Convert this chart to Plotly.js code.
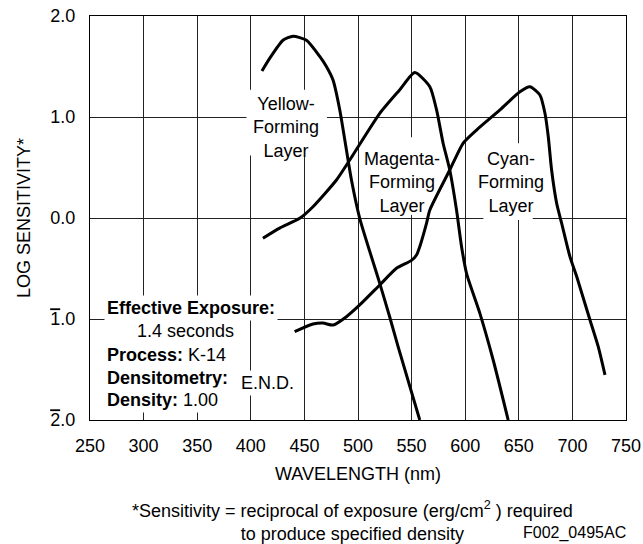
<!DOCTYPE html>
<html>
<head>
<meta charset="utf-8">
<script src="https://cdn.plot.ly/plotly-3.0.1.min.js"></script>
<style>
  html, body { margin: 0; padding: 0; background: #fff; }
  #chart { width: 643px; height: 544px; }
</style>
</head>
<body>
<div id="chart"></div>
<script>
// ---- data ----
const yellowWl  = [410.4, 417.6, 430, 439.4, 451.9, 464.3, 470.5, 476.7, 483, 493.9, 501.6, 520.3, 529.6, 537.4, 557.6];
const yellowLog = [1.455, 1.58, 1.76, 1.80, 1.76, 1.60, 1.50, 1.366, 1.07, 0.376, -0.003, -0.647, -0.98, -1.274, -2.0];

const magentaWl  = [411.3, 426.9, 445.6, 458, 479.9, 492.3, 520.3, 539, 553, 567, 573.3, 579.4, 585.6, 591.9, 596.6, 601.3, 613.7, 626.1, 640.1];
const magentaLog = [-0.20, -0.10, -0.003, 0.112, 0.376, 0.574, 1.036, 1.27, 1.44, 1.30, 1.07, 0.74, 0.475, 0.079, -0.284, -0.55, -0.944, -1.406, -2.0];

const cyanWl  = [440.9, 458, 467.4, 476.7, 489.2, 501.6, 520.3, 535.9, 549.9, 554.6, 557.6, 563.9, 567, 585.6, 598, 610.6, 632.4, 651, 660.4, 669.7, 674.4, 677.5, 680.6, 685.3, 690, 697.7, 704, 716.4, 724.1, 730.4];
const cyanLog = [-1.126, -1.05, -1.04, -1.06, -0.977, -0.861, -0.663, -0.498, -0.42, -0.366, -0.284, -0.053, 0.079, 0.475, 0.74, 0.871, 1.07, 1.25, 1.30, 1.218, 1.037, 0.805, 0.475, 0.146, -0.053, -0.383, -0.58, -1.01, -1.274, -1.554];

const xTickVals = [250, 300, 350, 400, 450, 500, 550, 600, 650, 700, 750];
const yTickVals = [2, 1, 0, -1, -2];
const yTickText = ['2.0', '1.0', '0.0',
  '<span style="text-decoration:overline">1</span>.0',
  '<span style="text-decoration:overline">2</span>.0'];

const layerLabels = ['Yellow-<br>Forming<br>Layer', 'Magenta-<br>Forming<br>Layer', 'Cyan-<br>Forming<br>Layer'];
const layerLabelX = [432.5, 541, 642.6];
const layerLabelY = [0.9, 0.356, 0.356];

const FONT = 'Liberation Sans, Arial, Helvetica, sans-serif';

const curveLine = {color: '#000', width: 3, shape: 'spline', smoothing: 0.6};
function curve(x, y, name) {
  return {x: x, y: y, name: name, type: 'scatter', mode: 'lines', line: curveLine,
          hoverinfo: 'skip', showlegend: false};
}
const traces = [
  curve(yellowWl, yellowLog, 'Yellow-Forming Layer'),
  curve(magentaWl, magentaLog, 'Magenta-Forming Layer'),
  curve(cyanWl, cyanLog, 'Cyan-Forming Layer')
];

// white panels that interrupt the grid behind the layer labels
const shapes = [
  {type: 'rect', xref: 'x', yref: 'y', x0: 396, x1: 471, y0: 0.62, y1: 1.27, layer: 'between', fillcolor: '#fff', line: {width: 0}},
  {type: 'rect', xref: 'x', yref: 'y', x0: 505, x1: 578, y0: 0.03, y1: 0.80, layer: 'between', fillcolor: '#fff', line: {width: 0}},
  {type: 'rect', xref: 'x', yref: 'y', x0: 608, x1: 674, y0: 0.03, y1: 0.74, layer: 'between', fillcolor: '#fff', line: {width: 0}},
  {type: 'rect', xref: 'x', yref: 'y', x0: 617, x1: 663, y0: -0.02, y1: 0.05, layer: 'between', fillcolor: '#fff', line: {width: 0}}
];

const annotations = [];
layerLabels.forEach((t, i) => annotations.push({
  text: t, x: layerLabelX[i], y: layerLabelY[i], xref: 'x', yref: 'y',
  showarrow: false, align: 'center', xanchor: 'center', yanchor: 'middle',
  font: {family: FONT, size: 18, color: '#000'}
}));

function infoLine(text, x, y) {
  annotations.push({text: text, x: x, y: y, xref: 'x', yref: 'y', showarrow: false,
    xanchor: 'left', yanchor: 'middle', align: 'left', bgcolor: '#fff', borderpad: 2,
    font: {family: FONT, size: 18, color: '#000'}});
}
infoLine('<b>Effective Exposure:</b>', 262.6, -0.89);
infoLine('1.4 seconds', 291.5, -1.12);
infoLine('<b>Process:</b> K-14', 262.6, -1.355);
infoLine('<b>Densitometry:</b>', 262.6, -1.58);
infoLine('E.N.D.', 387.7, -1.635);
infoLine('<b>Density:</b> 1.00', 262.6, -1.80);

annotations.push({
  text: '*Sensitivity = reciprocal of exposure (erg/cm<sup>2</sup> ) required<br>to produce specified density',
  xref: 'paper', yref: 'paper', x: 0.490, y: -0.251, showarrow: false,
  xanchor: 'center', yanchor: 'middle', align: 'center',
  font: {family: FONT, size: 18, color: '#000'}
});
annotations.push({
  text: 'F002_0495AC', xref: 'paper', yref: 'paper', x: 0.904, y: -0.2797,
  showarrow: false, xanchor: 'center', yanchor: 'middle',
  font: {family: FONT, size: 16, color: '#000'}
});

const layout = {
  width: 643, height: 544,
  margin: {l: 90, r: 17, t: 16, b: 124},
  paper_bgcolor: '#fff', plot_bgcolor: '#fff',
  font: {family: FONT, size: 18, color: '#000'},
  showlegend: false,
  xaxis: {
    range: [250, 750], tickmode: 'array', tickvals: xTickVals,
    showgrid: true, gridcolor: '#222', gridwidth: 1, zeroline: false,
    showline: true, mirror: true, linecolor: '#000', linewidth: 1.2,
    ticks: '', ticklabelstandoff: 9,
    tickfont: {family: FONT, size: 18, color: '#000'},
    title: {text: 'WAVELENGTH (nm)', standoff: 12, font: {family: FONT, size: 18, color: '#000'}},
    fixedrange: true
  },
  yaxis: {
    range: [-2, 2], tickmode: 'array', tickvals: yTickVals, ticktext: yTickText,
    showgrid: true, gridcolor: '#222', gridwidth: 1, zeroline: false,
    showline: true, mirror: true, linecolor: '#000', linewidth: 1.2,
    ticks: '', ticklabelstandoff: 10,
    tickfont: {family: FONT, size: 18, color: '#000'},
    title: {text: 'LOG SENSITIVITY*', standoff: 14, font: {family: FONT, size: 18, color: '#000'}},
    fixedrange: true
  },
  shapes: shapes,
  annotations: annotations
};

Plotly.newPlot('chart', traces, layout, {displayModeBar: false, staticPlot: true});
</script>
</body>
</html>
